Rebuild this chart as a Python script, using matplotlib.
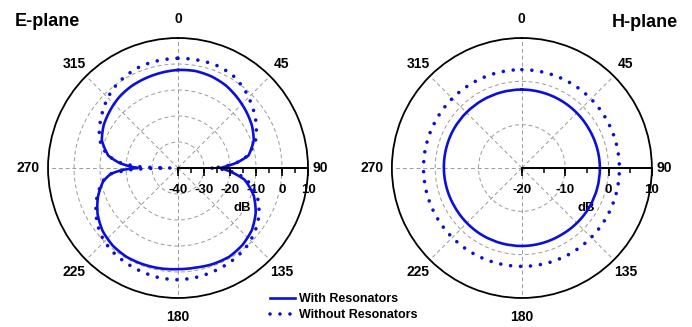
import numpy as np
import matplotlib
matplotlib.use("Agg")
import matplotlib.pyplot as plt

plt.rcParams["font.family"] = ["Liberation Sans", "DejaVu Sans"]
plt.rcParams["font.weight"] = "bold"

BLUE = "#0a10d8"
GRID = "#9a9a9a"

# E-plane pattern (degrees, dB)
e_theta = [0, 10, 20, 30, 40, 50, 60, 70, 80, 85, 88, 90, 92, 95, 100, 110, 120,
           130, 140, 150, 160, 170, 180, 190, 200, 210, 220, 230, 240, 250, 260,
           265, 268, 270, 272, 275, 280, 290, 300, 310, 320, 330, 340, 350, 360]
e_with = [-2.3, -2.1, -2.5, -3.3, -4.6, -5.9, -7.2, -9.0, -12.5, -17.5, -21.5,
          -23.7, -21.8, -18.8, -14.0, -9.0, -5.5, -2.9, -1.4, -0.6, -0.7, -1.1,
          -1.1, -0.8, -0.6, -0.5, -1.0, -2.2, -4.3, -7.2, -10.8, -14.0, -18.5,
          -24.5, -21.5, -17.3, -12.8, -8.8, -7.0, -5.8, -4.6, -3.8, -3.3, -2.8, -2.3]
e_without = [2.2, 2.2, 2.2, 1.5, -0.4, -2.8, -5.3, -8.2, -12.8, -17.5, -22.0,
             -27.6, -22.5, -17.5, -13.0, -7.5, -4.0, -1.5, 0.3, 1.3, 2.0, 2.6,
             3.0, 2.8, 2.2, 1.5, 0.7, -0.9, -3.6, -6.8, -10.5, -14.0, -22.0,
             -37.0, -25.0, -18.0, -12.5, -7.8, -5.4, -3.0, -0.7, 0.7, 1.7, 2.0, 2.2]

# H-plane pattern
h_theta = [0, 30, 60, 90, 120, 150, 180, 210, 240, 270, 300, 330, 360]
h_with = [-1.9, -2.0, -2.1, -2.0, -2.0, -2.1, -2.0, -2.0, -2.1, -2.0, -1.9, -1.9, -1.9]
h_without = [2.7, 2.6, 2.5, 2.5, 2.6, 2.7, 2.7, 2.7, 2.7, 2.7, 2.7, 2.7, 2.7]

angle_ticks = [0, 45, 90, 135, 180, 225, 270, 315]
angle_labels = ["0", "45", "90", "135", "180", "225", "270", "315"]
# distance of each angle label centre from the centre, in radii
label_dist = [1.145, 1.13, 1.095, 1.13, 1.15, 1.13, 1.15, 1.13]
e_rticks = [-40, -30, -20, -10, 0, 10]
h_rticks = [-20, -10, 0, 10]


def setup_polar(ax, rticks, rgrid):
    ax.set_theta_zero_location("N")
    ax.set_theta_direction(-1)
    ax.set_ylim(rticks[0], rticks[-1])
    ax.set_xticks(np.deg2rad(angle_ticks))
    ax.set_xticklabels([])
    ax.set_xticks(np.deg2rad(np.arange(22.5, 360, 45)), minor=True)
    ax.tick_params(axis="x", which="major", direction="out", length=7, width=1.2)
    ax.tick_params(axis="x", which="minor", direction="out", length=4, width=1.0)
    ax.set_yticks(rgrid)
    ax.set_yticklabels([])
    ax.tick_params(axis="y", length=0)
    ax.grid(True, color=GRID, linestyle=(0, (4, 3)), linewidth=0.7)
    ax.spines["polar"].set_linewidth(1.3)

    for a, lab, k in zip(angle_ticks, angle_labels, label_dist):
        t = np.deg2rad(a)
        ax.text(0.5 + 0.5 * k * np.sin(t), 0.5 + 0.5 * k * np.cos(t), lab,
                transform=ax.transAxes, ha="center", va="center",
                fontsize=10, fontweight="bold")

    # radial scale drawn along the 90 degree direction
    minor = np.arange(rticks[0], rticks[-1] + 0.1, 5)
    ax.plot([np.pi / 2, np.pi / 2], [rticks[0], rticks[-1]], color="k", lw=1.4,
            clip_on=False, zorder=4)
    ax.plot(np.full(len(minor), np.pi / 2), minor, ls="none", marker=3, ms=3.5,
            mew=1.1, color="k", clip_on=False, zorder=4)
    ax.plot(np.full(len(rticks), np.pi / 2), rticks, ls="none", marker=3, ms=5.5,
            mew=1.2, color="k", clip_on=False, zorder=4)
    for v in rticks:
        ax.annotate(str(v), xy=(np.pi / 2, v), xytext=(0, -16), textcoords="offset points",
                    ha="center", va="center", fontsize=9.5, fontweight="bold")
    ax.text(0.748, 0.345, "dB", transform=ax.transAxes, ha="center", va="center",
            fontsize=9.5, fontweight="bold")


def pattern(ax, theta, r, dotted, label=None):
    if dotted:
        line, = ax.plot(np.deg2rad(theta), r, color=BLUE, lw=2.6,
                        linestyle=(0, (0.01, 2.75)), dash_capstyle="round",
                        label=label, zorder=3)
    else:
        line, = ax.plot(np.deg2rad(theta), r, color=BLUE, lw=1.9, label=label, zorder=3)
    # follow the polar curve between samples instead of straight chords
    line.get_path()._interpolation_steps = 30
    return line


fig = plt.figure(figsize=(6.92, 3.27), dpi=100)

ax1 = fig.add_axes([0.0694, 0.0887, 0.3757, 0.7951], projection="polar")
setup_polar(ax1, e_rticks, [-30, -20, -10, 0])
pattern(ax1, e_theta, e_with, False, "With Resonators")
pattern(ax1, e_theta, e_without, True, "Without Resonators")

ax2 = fig.add_axes([0.5663, 0.0887, 0.3757, 0.7951], projection="polar")
setup_polar(ax2, h_rticks, [-10, 0])
pattern(ax2, h_theta, h_with, False)
pattern(ax2, h_theta, h_without, True)

fig.text(0.022, 0.933, "E-plane", fontsize=13, fontweight="bold", ha="left", va="center")
fig.text(0.979, 0.930, "H-plane", fontsize=13, fontweight="bold", ha="right", va="center")

fig.legend(loc="center", bbox_to_anchor=(0.497, 0.061), frameon=False, fontsize=9,
           handlelength=2.0, handletextpad=0.35, labelspacing=0.3, borderpad=0)

fig.savefig("out.png", dpi=100)
